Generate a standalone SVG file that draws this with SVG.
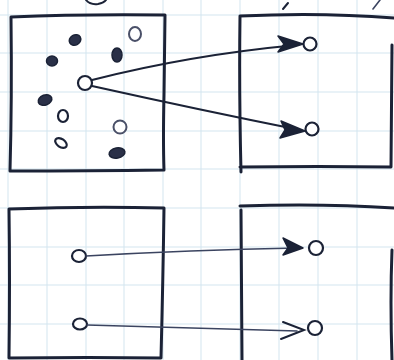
<svg xmlns="http://www.w3.org/2000/svg" width="394" height="360" viewBox="0 0 394 360">
<defs>
<style>
.grid line{stroke:#d3e5ef;stroke-width:1}
.box{fill:none;stroke:#1b2236;stroke-width:3;stroke-linejoin:round;stroke-linecap:round}
.open{fill:#fff;stroke:#1b2236;stroke-width:2.2}
.openl{fill:#fff;stroke:#4a5068;stroke-width:2}
.dot{fill:#2a3048;stroke:#1b2236;stroke-width:1.5}
.edge{fill:none;stroke:#1b2236;stroke-width:2;stroke-linecap:round}
.edgel{fill:none;stroke:#3b4460;stroke-width:1.6;stroke-linecap:round}
.head{fill:#1b2236;stroke:#1b2236;stroke-width:1.5;stroke-linejoin:round}
</style>
</defs>
<rect width="394" height="360" fill="#ffffff"/>
<g class="grid">
<line x1="8" y1="0" x2="8" y2="360"/><line x1="47" y1="0" x2="47" y2="360"/><line x1="86" y1="0" x2="86" y2="360"/><line x1="124" y1="0" x2="124" y2="360"/><line x1="163" y1="0" x2="163" y2="360"/><line x1="201" y1="0" x2="201" y2="360"/><line x1="240" y1="0" x2="240" y2="360"/><line x1="279" y1="0" x2="279" y2="360"/><line x1="318" y1="0" x2="318" y2="360"/><line x1="357" y1="0" x2="357" y2="360"/>
<line x1="0" y1="15" x2="394" y2="15"/><line x1="0" y1="53" x2="394" y2="53"/><line x1="0" y1="92" x2="394" y2="92"/><line x1="0" y1="131" x2="394" y2="131"/><line x1="0" y1="169" x2="394" y2="169"/><line x1="0" y1="208" x2="394" y2="208"/><line x1="0" y1="247" x2="394" y2="247"/><line x1="0" y1="285" x2="394" y2="285"/><line x1="0" y1="324" x2="394" y2="324"/>
</g>
<g id="scraps">
<path d="M86,0 Q90,5 98,4 Q104,3 106,0" class="edge" stroke-width="2.5"/>
<path d="M283,9 L288,3" class="edge" stroke-width="2.5"/>
<path d="M373,9 L380,0" class="edgel"/>
</g>
<g id="box-top-left"><path class="box" d="M11,17 Q80,14 165,15 L164,95 Q163,140 164,170 Q90,171 10,171 Q12,100 11,17 Z"/></g>
<g id="box-top-right"><path class="box" d="M240,16 Q320,12 394,18 M392,45 L391,167 Q320,166 240,167 M240,16 Q239,90 241,172"/></g>
<g id="box-bottom-left"><path class="box" d="M9,209 Q90,206 164,208 Q163,280 161,358 Q90,357 9,358 Q10,280 9,209"/></g>
<g id="box-bottom-right"><path class="box" d="M240,206 Q320,203 394,208 M392,250 Q390,300 392,360 M241,210 L242,360"/></g>
<g id="dots">
<ellipse class="dot" cx="75" cy="40" rx="6" ry="5" transform="rotate(-30 75 40)"/>
<ellipse class="openl" cx="135" cy="34" rx="6" ry="7"/>
<ellipse class="dot" cx="117" cy="55" rx="5" ry="7"/>
<ellipse class="dot" cx="52" cy="61" rx="5.5" ry="5"/>
<ellipse class="dot" cx="45" cy="100" rx="7" ry="5" transform="rotate(-20 45 100)"/>
<ellipse class="open" cx="63" cy="116" rx="5" ry="6"/>
<ellipse class="openl" cx="120" cy="127" rx="6.5" ry="6.5"/>
<ellipse class="open" cx="61" cy="143" rx="6.5" ry="4" transform="rotate(35 61 143)"/>
<ellipse class="dot" cx="117" cy="153" rx="8" ry="5" transform="rotate(-10 117 153)"/>
</g>
<g id="node-source"><circle class="open" cx="85" cy="83" r="7" stroke-width="3.5"/></g>
<g id="node-t1"><circle class="open" cx="310" cy="44" r="6.5" stroke-width="3"/></g>
<g id="node-t2"><circle class="open" cx="312" cy="129" r="6.5" stroke-width="3"/></g>
<g id="node-a"><ellipse class="open" cx="79" cy="256" rx="7" ry="6" stroke-width="2"/></g>
<g id="node-b"><ellipse class="open" cx="80" cy="324" rx="7" ry="5.5" stroke-width="2.5"/></g>
<g id="node-a2"><circle class="open" cx="316" cy="248" r="7" stroke-width="2.5"/></g>
<g id="node-b2"><circle class="open" cx="315" cy="328" r="7" stroke-width="2.2"/></g>
<g id="connectors">
<path class="edge" d="M92,80 Q190,55 297,45"/>
<path class="edge" d="M92,86 Q200,110 300,130"/>
<path class="edgel" d="M86,256 Q190,250 297,248"/>
<path class="edgel" d="M87,325 Q190,328 297,331"/>
<path class="head" d="M303,44 L278,36 L284,44 L278,52 Z"/>
<path class="head" d="M305,131 L281,121 L285,130 L280,138 Z"/>
<path class="head" d="M303,248 L283,238 L288,248 L283,255 Z"/>
<path class="edge" d="M283,322 L304,330 L281,339" stroke-width="2.5"/>
</g>
</svg>
